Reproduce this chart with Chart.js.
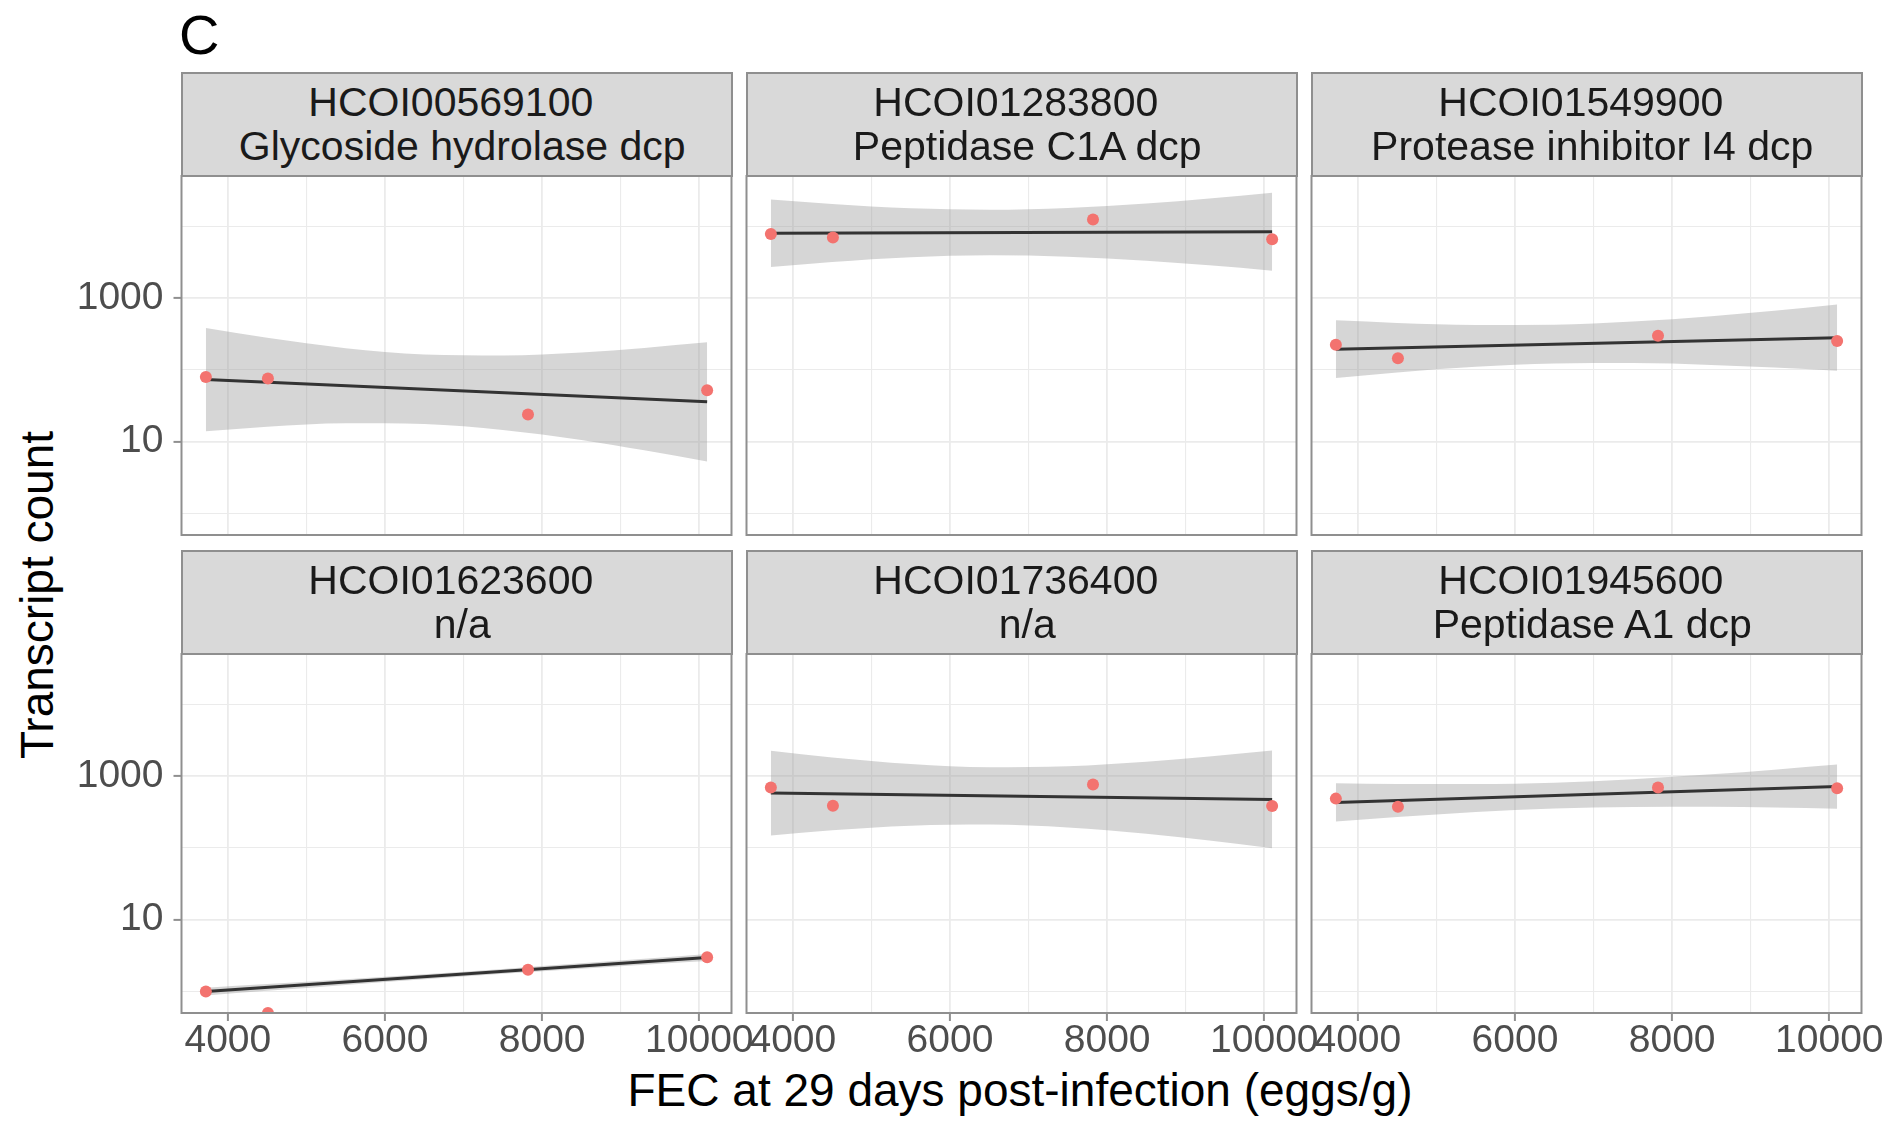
<!DOCTYPE html>
<html>
<head>
<meta charset="utf-8">
<script src="https://cdn.jsdelivr.net/npm/chart.js@4.4.1/dist/chart.umd.min.js"></script>
<style>
html, body { margin: 0; padding: 0; background: #ffffff; }
#wrap { position: relative; width: 1897px; height: 1126px; overflow: hidden; font-family: "Liberation Sans", Arial, sans-serif; background: #ffffff; }
#wrap canvas { position: absolute; left: 0; top: 0; }
.strip { position: absolute; box-sizing: border-box; background: #D9D9D9; border: 2px solid #8f8f8f; }
.strip .ln { position: absolute; left: 0; width: 100%; text-align: center; white-space: pre; font-size: 41px; line-height: 44px; color: #1A1A1A; }
.txt { position: absolute; white-space: pre; color: #000000; }
</style>
</head>
<body>
<div id="wrap">
  <div class="txt" style="left:179px; top:7px; font-size:56px; line-height:56px;">C</div>
  <div class="txt" style="left:180px; top:1067px; width:1680px; text-align:center; font-size:46px; line-height:46px;">FEC at 29 days post-infection (eggs/g)</div>
  <div class="txt" style="left:-263px; top:571.5px; width:600px; height:46px; text-align:center; font-size:46px; line-height:46px; transform:rotate(-90deg);">Transcript count</div>
</div>
<script>
// ---------------- data ----------------
const geneIds = ['HCOI00569100', 'HCOI01283800', 'HCOI01549900', 'HCOI01623600', 'HCOI01736400', 'HCOI01945600'];
const geneDescriptions = ['Glycoside hydrolase dcp', 'Peptidase C1A dcp', 'Protease inhibitor I4 dcp', 'n/a', 'n/a', 'Peptidase A1 dcp'];

// FEC (eggs/g) of the four samples
const fecValues = [3720, 4510, 7820, 10100];

// transcript counts per gene (0 = zero count, drawn at the panel floor like ggplot's -Inf)
const countsHCOI00569100 = [80, 76, 24, 52];
const countsHCOI01283800 = [7870, 7010, 12450, 6620];
const countsHCOI01549900 = [225, 146, 300, 253];
const countsHCOI01623600 = [1, 0, 2, 3];
const countsHCOI01736400 = [697, 388, 767, 384];
const countsHCOI01945600 = [487, 374, 697, 681];

// fitted (log-linear) line, values at the ends of the FEC range
const fitX = [3720, 10100];
const fitHCOI00569100 = [73.5, 36.0];
const fitHCOI01283800 = [8035, 8453];
const fitHCOI01549900 = [195, 282];
const fitHCOI01623600 = [1.0, 2.98];
const fitHCOI01736400 = [581, 475];
const fitHCOI01945600 = [431, 716];

// confidence band read at these FEC values
const bandX = [3720, 4500, 5500, 6500, 7500, 8500, 9300, 10100];
const bandUpperHCOI00569100 = [385, 280, 201, 164, 159, 175, 203, 243];
const bandLowerHCOI00569100 = [14.0, 16.2, 18.1, 17.6, 14.6, 10.6, 7.6, 5.3];
const bandUpperHCOI01283800 = [23770, 20560, 17910, 17060, 18110, 20890, 24550, 29510];
const bandLowerHCOI01283800 = [2716, 3184, 3707, 3954, 3784, 3327, 2871, 2421];
const bandUpperHCOI01549900 = [491, 452, 423, 427, 472, 562, 670, 817];
const bandLowerHCOI01549900 = [77.4, 92.3, 110.7, 123.0, 124.7, 117.5, 108.1, 97.3];
const bandUpperHCOI01623600 = [1.13, 1.27, 1.48, 1.74, 2.06, 2.47, 2.86, 3.33];
const bandLowerHCOI01623600 = [0.877, 1.02, 1.23, 1.48, 1.76, 2.08, 2.36, 2.66];
const bandUpperHCOI01736400 = [2265, 1824, 1479, 1334, 1374, 1585, 1875, 2280];
const bandLowerHCOI01736400 = [149, 176, 204, 212, 193, 158, 127, 99];
const bandUpperHCOI01945600 = [796, 778, 776, 813, 908, 1062, 1233, 1455];
const bandLowerHCOI01945600 = [233, 270, 318, 355, 373, 375, 366, 352];

// axes
const xTickValues = [4000, 5000, 6000, 7000, 8000, 9000, 10000];
const xTickLabels = ['4000', '', '6000', '', '8000', '', '10000'];
const yTickValues = [1, 10, 100, 1000, 10000];
const yTickLabels = ['', '10', '', '1000', ''];
const xRange = [3410, 10410];
const yRange = [0.501, 50470];

// ---------------- layout (styles, not data) ----------------
const W = 1897, H = 1126;
const colLeft = [181.5, 746.5, 1311.5];
const panelW = 550;
const rowTop = [176, 654];
const panelH = 359;
const stripH = 103.5;
const yAxisW = 170;   // room for the y tick labels
const xAxisH = 80;    // room for the x tick labels
const FONT = '"Liberation Sans", Arial, sans-serif';
const GRID = '#EBEBEB';
const FRAME = '#8f8f8f';

const countSeries = [countsHCOI00569100, countsHCOI01283800, countsHCOI01549900, countsHCOI01623600, countsHCOI01736400, countsHCOI01945600];
const fitSeries = [fitHCOI00569100, fitHCOI01283800, fitHCOI01549900, fitHCOI01623600, fitHCOI01736400, fitHCOI01945600];
const bandUpper = [bandUpperHCOI00569100, bandUpperHCOI01283800, bandUpperHCOI01549900, bandUpperHCOI01623600, bandUpperHCOI01736400, bandUpperHCOI01945600];
const bandLower = [bandLowerHCOI00569100, bandLowerHCOI01283800, bandLowerHCOI01549900, bandLowerHCOI01623600, bandLowerHCOI01736400, bandLowerHCOI01945600];

const panelBorder = {
  id: 'panelBorder',
  afterDraw(chart) {
    const { ctx, chartArea: a } = chart;
    ctx.save();
    ctx.strokeStyle = FRAME;
    ctx.lineWidth = 2;
    ctx.strokeRect(a.left, a.top, a.right - a.left, a.bottom - a.top);
    ctx.restore();
  }
};

const wrap = document.getElementById('wrap');

function fixedFit(horizontal, size) {
  return function (s) {
    if (horizontal) s.height = size; else s.width = size;
    s.paddingLeft = 0; s.paddingRight = 0; s.paddingTop = 0; s.paddingBottom = 0;
  };
}

for (let i = 0; i < 6; i++) {
  const col = i % 3, row = Math.floor(i / 3);
  const left = colLeft[col], top = rowTop[row];
  const showY = col === 0, showX = row === 1;

  // strip
  const strip = document.createElement('div');
  strip.className = 'strip';
  strip.style.left = (left - 1) + 'px';
  strip.style.top = (top - stripH - 1) + 'px';
  strip.style.width = (panelW + 2) + 'px';
  strip.style.height = (stripH + 2) + 'px';
  const l1 = document.createElement('div');
  l1.className = 'ln'; l1.style.top = '6.8px'; l1.textContent = geneIds[i] + ' ';
  const l2 = document.createElement('div');
  l2.className = 'ln'; l2.style.top = '50.3px'; l2.textContent = ' ' + geneDescriptions[i];
  strip.appendChild(l1); strip.appendChild(l2);
  wrap.appendChild(strip);

  const canvas = document.createElement('canvas');
  canvas.width = W; canvas.height = H;
  canvas.style.width = W + 'px'; canvas.style.height = H + 'px';
  wrap.appendChild(canvas);

  new Chart(canvas, {
    type: 'line',
    data: {
      datasets: [
        {
          label: 'band lower',
          data: bandX.map((x, k) => ({ x: x, y: bandLower[i][k] })),
          borderColor: 'rgba(0,0,0,0)', borderWidth: 0, pointRadius: 0, fill: false,
          cubicInterpolationMode: 'monotone', order: 3
        },
        {
          label: 'band upper',
          data: bandX.map((x, k) => ({ x: x, y: bandUpper[i][k] })),
          borderColor: 'rgba(0,0,0,0)', borderWidth: 0, pointRadius: 0,
          fill: '-1', backgroundColor: 'rgba(153,153,153,0.4)',
          cubicInterpolationMode: 'monotone', order: 2
        },
        {
          label: 'fit',
          data: fitX.map((x, k) => ({ x: x, y: fitSeries[i][k] })),
          borderColor: '#333333', borderWidth: 3, pointRadius: 0, fill: false, order: 1
        },
        {
          label: 'counts',
          data: fecValues.map((x, k) => ({ x: x, y: countSeries[i][k] > 0 ? countSeries[i][k] : yRange[0] })),
          showLine: false, pointRadius: 6, pointBackgroundColor: '#F3736F',
          pointBorderWidth: 0, pointBorderColor: 'rgba(0,0,0,0)', clip: 0, order: 0
        }
      ]
    },
    options: {
      responsive: false,
      animation: false,
      devicePixelRatio: 1,
      events: [],
      layout: {
        autoPadding: false,
        padding: { left: left - yAxisW, top: top, right: W - (left + panelW), bottom: H - (top + panelH) - xAxisH }
      },
      plugins: { legend: { display: false }, tooltip: { enabled: false }, title: { display: false } },
      scales: {
        x: {
          type: 'linear', position: 'bottom', bounds: 'data',
          min: xRange[0], max: xRange[1],
          afterBuildTicks: s => { s.ticks = xTickValues.map(v => ({ value: v })); },
          afterFit: fixedFit(true, xAxisH),
          border: { display: false },
          grid: {
            drawTicks: showX, tickLength: 8,
            color: GRID,
            lineWidth: c => (c.tick && xTickLabels[xTickValues.indexOf(c.tick.value)] ? 1.8 : 1.1),
            tickColor: c => (c.tick && xTickLabels[xTickValues.indexOf(c.tick.value)] ? FRAME : 'rgba(0,0,0,0)'),
            tickWidth: 2
          },
          ticks: {
            display: showX, autoSkip: false, maxRotation: 0, minRotation: 0, padding: 1,
            color: '#4D4D4D', font: { family: FONT, size: 39, lineHeight: 1 },
            callback: v => { const k = xTickValues.indexOf(v); return k >= 0 ? xTickLabels[k] : ''; }
          }
        },
        y: {
          type: 'logarithmic', position: 'left', bounds: 'data',
          min: yRange[0], max: yRange[1],
          afterBuildTicks: s => { s.ticks = yTickValues.map(v => ({ value: v })); },
          afterFit: fixedFit(false, yAxisW),
          border: { display: false },
          grid: {
            drawTicks: showY, tickLength: 8,
            color: GRID,
            lineWidth: c => (c.tick && yTickLabels[yTickValues.indexOf(c.tick.value)] ? 1.8 : 1.1),
            tickColor: c => (c.tick && yTickLabels[yTickValues.indexOf(c.tick.value)] ? FRAME : 'rgba(0,0,0,0)'),
            tickWidth: 2
          },
          ticks: {
            display: showY, autoSkip: false, padding: 10,
            color: '#4D4D4D', font: { family: FONT, size: 39, lineHeight: 1 },
            callback: v => { const k = yTickValues.indexOf(v); return k >= 0 ? yTickLabels[k] : ''; }
          }
        }
      }
    },
    plugins: [panelBorder]
  });
}
</script>
</body>
</html>
